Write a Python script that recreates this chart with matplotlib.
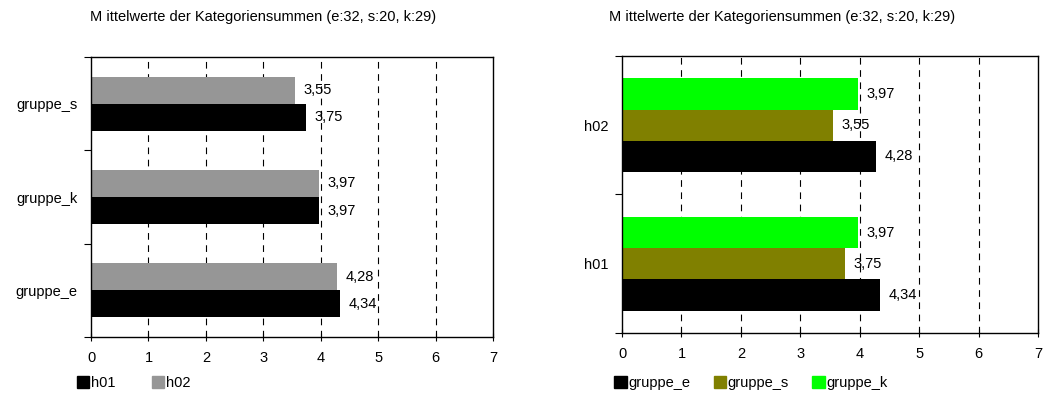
import matplotlib.pyplot as plt
from matplotlib.patches import Patch

plt.rcParams['font.family'] = ['Liberation Sans', 'DejaVu Sans']

title = "M ittelwerte der Kategoriensummen (e:32, s:20, k:29)"

# left chart: groups on the y axis, one bar per survey
groups = ["gruppe_e", "gruppe_k", "gruppe_s"]
h01 = [4.34, 3.97, 3.75]
h02 = [4.28, 3.97, 3.55]

# right chart: surveys on the y axis, one bar per group
surveys = ["h01", "h02"]
gruppe_e = [4.34, 4.28]
gruppe_s = [3.75, 3.55]
gruppe_k = [3.97, 3.97]

xticks = [0, 1, 2, 3, 4, 5, 6, 7]


def fmt(v):
    return ("%.2f" % v).replace(".", ",")


def style_axes(ax, n):
    ax.set_xlim(0, 7)
    ax.set_ylim(-0.5, n - 0.5)
    ax.set_xticks(xticks)
    ax.tick_params(axis="x", direction="inout", length=6, width=0.8, labelsize=10.5, pad=7)
    # category boundaries get the tick marks, centers get the labels
    ax.set_yticks([i - 0.5 for i in range(n + 1)])
    ax.set_yticklabels([])
    ax.tick_params(axis="y", which="major", direction="out", length=5, width=0.8)
    ax.set_yticks(range(n), minor=True)
    ax.tick_params(axis="y", which="minor", length=0, labelsize=10.5, pad=10)
    for x in xticks[1:-1]:
        ax.axvline(x, color="black", lw=0.8, ls=(0, (6, 5)), zorder=0)
    for s in ax.spines.values():
        s.set_linewidth(1.0)


def label_bars(ax, bars, vals):
    for b, v in zip(bars, vals):
        ax.annotate(fmt(v), (b.get_width(), b.get_y() + b.get_height() / 2),
                    xytext=(6, 0), textcoords="offset points",
                    va="center", ha="left", fontsize=10.5)


fig = plt.figure(figsize=(10.5, 3.96), dpi=100)

ax1 = fig.add_axes([0.0867, 0.149, 0.3828, 0.707])
ax2 = fig.add_axes([0.5924, 0.159, 0.3962, 0.700])

# left chart
y = list(range(len(groups)))
hb = 0.29
b1 = ax1.barh([i - hb / 2 for i in y], h01, height=hb, color="black", zorder=2)
b2 = ax1.barh([i + hb / 2 for i in y], h02, height=hb, color="#969696", zorder=2)
label_bars(ax1, b1, h01)
label_bars(ax1, b2, h02)
style_axes(ax1, len(groups))
ax1.set_yticklabels(groups, minor=True)

# right chart
y = list(range(len(surveys)))
hb = 0.225
c1 = ax2.barh([i - hb for i in y], gruppe_e, height=hb, color="black", zorder=2)
c2 = ax2.barh(y, gruppe_s, height=hb, color="#808000", zorder=2)
c3 = ax2.barh([i + hb for i in y], gruppe_k, height=hb, color="#00ff00", zorder=2)
label_bars(ax2, c1, gruppe_e)
label_bars(ax2, c2, gruppe_s)
label_bars(ax2, c3, gruppe_k)
style_axes(ax2, len(surveys))
ax2.set_yticklabels(surveys, minor=True)

fig.text(0.2505, 0.958, title, ha="center", va="center", fontsize=10.5)
fig.text(0.7445, 0.958, title, ha="center", va="center", fontsize=10.5)

leg_kw = dict(frameon=False, handlelength=0.85, handleheight=0.85, handletextpad=0.12,
              fontsize=10.5, borderpad=0, borderaxespad=0, loc="center left")
fig.legend(handles=[Patch(color="black", label="h01"), Patch(color="#969696", label="h02")],
           ncol=2, columnspacing=2.5, bbox_to_anchor=(0.073, 0.033), **leg_kw)
fig.legend(handles=[Patch(color="black", label="gruppe_e"),
                    Patch(color="#808000", label="gruppe_s"),
                    Patch(color="#00ff00", label="gruppe_k")],
           ncol=3, columnspacing=1.6, bbox_to_anchor=(0.585, 0.033), **leg_kw)

fig.savefig("out.png", dpi=100)
